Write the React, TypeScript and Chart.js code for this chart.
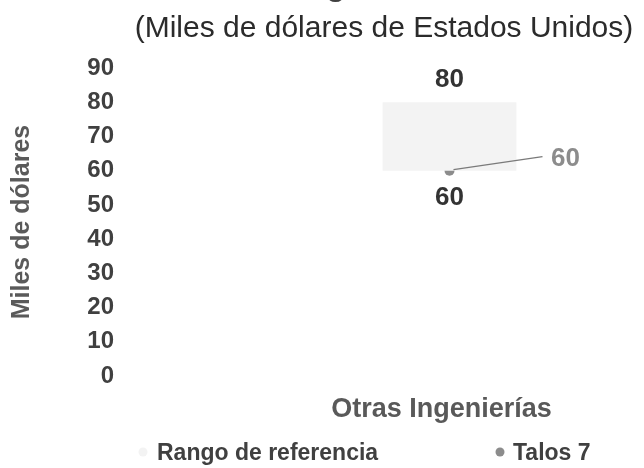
import React, { useEffect, useRef } from 'react';
import { Chart, registerables } from 'chart.js';

Chart.register(...registerables);

const categories = ['Otras Ingenierías'];
const rangeLow = [60];
const rangeHigh = [80];
const talos7 = [60];
const seriesNames = ['Rango de referencia', 'Talos 7'];
const titleLines = ['Ingenierías', '(Miles de dólares de Estados Unidos)'];
const yAxisTitle = 'Miles de dólares';
const yMin = 0;
const yMax = 90;
const yStep = 10;

const FF = "'Liberation Sans', Arial, Helvetica, sans-serif";
const RANGE_COLOR = '#f3f3f3';
const POINT_COLOR = '#8c8c8c';

const overlay = {
  id: 'overlay',
  afterDatasetsDraw(chart: any) {
    const ctx = chart.ctx;
    const bars = chart.getDatasetMeta(0).data;
    const pts = chart.getDatasetMeta(1).data;
    ctx.save();
    ctx.textAlign = 'center';
    ctx.textBaseline = 'middle';
    ctx.font = `bold 26px ${FF}`;
    bars.forEach((b: any, i: number) => {
      const top = Math.min(b.y, b.base);
      const bottom = Math.max(b.y, b.base);
      ctx.fillStyle = '#333333';
      ctx.fillText(String(rangeHigh[i]), b.x, top - 22);
      ctx.fillText(String(rangeLow[i]), b.x, bottom + 27);
    });
    pts.forEach((p: any, i: number) => {
      ctx.strokeStyle = '#7a7a7a';
      ctx.lineWidth = 1.3;
      ctx.beginPath();
      ctx.moveTo(p.x + 4, p.y - 1);
      ctx.lineTo(p.x + 93, p.y - 14);
      ctx.stroke();
      ctx.fillStyle = POINT_COLOR;
      ctx.fillText(String(talos7[i]), p.x + 116, p.y - 12);
    });
    ctx.restore();
  },
  afterDraw(chart: any) {
    const ctx = chart.ctx;
    ctx.save();
    ctx.textAlign = 'center';
    ctx.textBaseline = 'alphabetic';
    ctx.fillStyle = '#404040';
    ctx.font = `bold 32px ${FF}`;
    ctx.fillText(titleLines[0], 382, -5);
    ctx.fillStyle = '#2b2b2b';
    ctx.font = `30px ${FF}`;
    ctx.fillText(titleLines[1], 384, 37);

    // legend
    const items = [
      { mx: 143, tx: 157 },
      { mx: 500, tx: 513 },
    ];
    ctx.font = `bold 23px ${FF}`;
    ctx.textAlign = 'left';
    chart.data.datasets.forEach((ds: any, i: number) => {
      const it = items[i];
      ctx.fillStyle = ds.backgroundColor;
      ctx.beginPath();
      ctx.arc(it.mx, 452, 4.5, 0, Math.PI * 2);
      ctx.fill();
      ctx.fillStyle = '#404040';
      ctx.fillText(ds.label, it.tx, 460);
    });
    ctx.restore();
  },
};

export default function App() {
  const ref = useRef<HTMLCanvasElement>(null);
  useEffect(() => {
    if (!ref.current) return;
    const chart = new Chart(ref.current, {
      type: 'bar',
      data: {
        labels: categories,
        datasets: [
          {
            type: 'bar',
            label: seriesNames[0],
            data: rangeLow.map((lo, i) => [lo, rangeHigh[i]]) as any,
            backgroundColor: RANGE_COLOR,
            borderWidth: 0,
            categoryPercentage: 1,
            barPercentage: 0.353,
          } as any,
          {
            type: 'line',
            label: seriesNames[1],
            data: talos7,
            showLine: false,
            pointRadius: 5,
            pointBackgroundColor: POINT_COLOR,
            pointBorderWidth: 0,
            backgroundColor: POINT_COLOR,
            borderColor: POINT_COLOR,
          } as any,
        ],
      },
      options: {
        responsive: true,
        maintainAspectRatio: false,
        animation: false,
        layout: { padding: { top: 68, right: 4, bottom: 42, left: 0 } },
        plugins: {
          legend: { display: false },
          title: { display: false },
          tooltip: { enabled: false },
        },
        scales: {
          x: {
            grid: { display: false, drawTicks: false },
            border: { display: false },
            ticks: {
              color: '#595959',
              font: { family: FF, size: 27, weight: 'bold' },
              padding: 17,
              labelOffset: -8,
            },
            afterFit: (s: any) => {
              s.height = 50;
              s.paddingLeft = 0;
              s.paddingRight = 0;
            },
          },
          y: {
            min: yMin,
            max: yMax,
            grid: { display: false, drawTicks: false },
            border: { display: false },
            ticks: {
              stepSize: yStep,
              color: '#404040',
              font: { family: FF, size: 24, weight: 'bold' },
              padding: 146,
            },
            title: {
              display: true,
              text: yAxisTitle,
              color: '#5a5a5a',
              font: { family: FF, size: 25, weight: 'bold' },
              padding: { top: 7, bottom: 0 },
            },
            afterFit: (s: any) => {
              s.width = 260;
              s.paddingTop = 0;
              s.paddingBottom = 0;
            },
          },
        },
      },
      plugins: [overlay],
    });
    return () => chart.destroy();
  }, []);
  return (
    <div style={{ position: 'absolute', left: 0, top: 0, width: 644, height: 468, background: '#fff' }}>
      <canvas ref={ref} />
    </div>
  );
}
